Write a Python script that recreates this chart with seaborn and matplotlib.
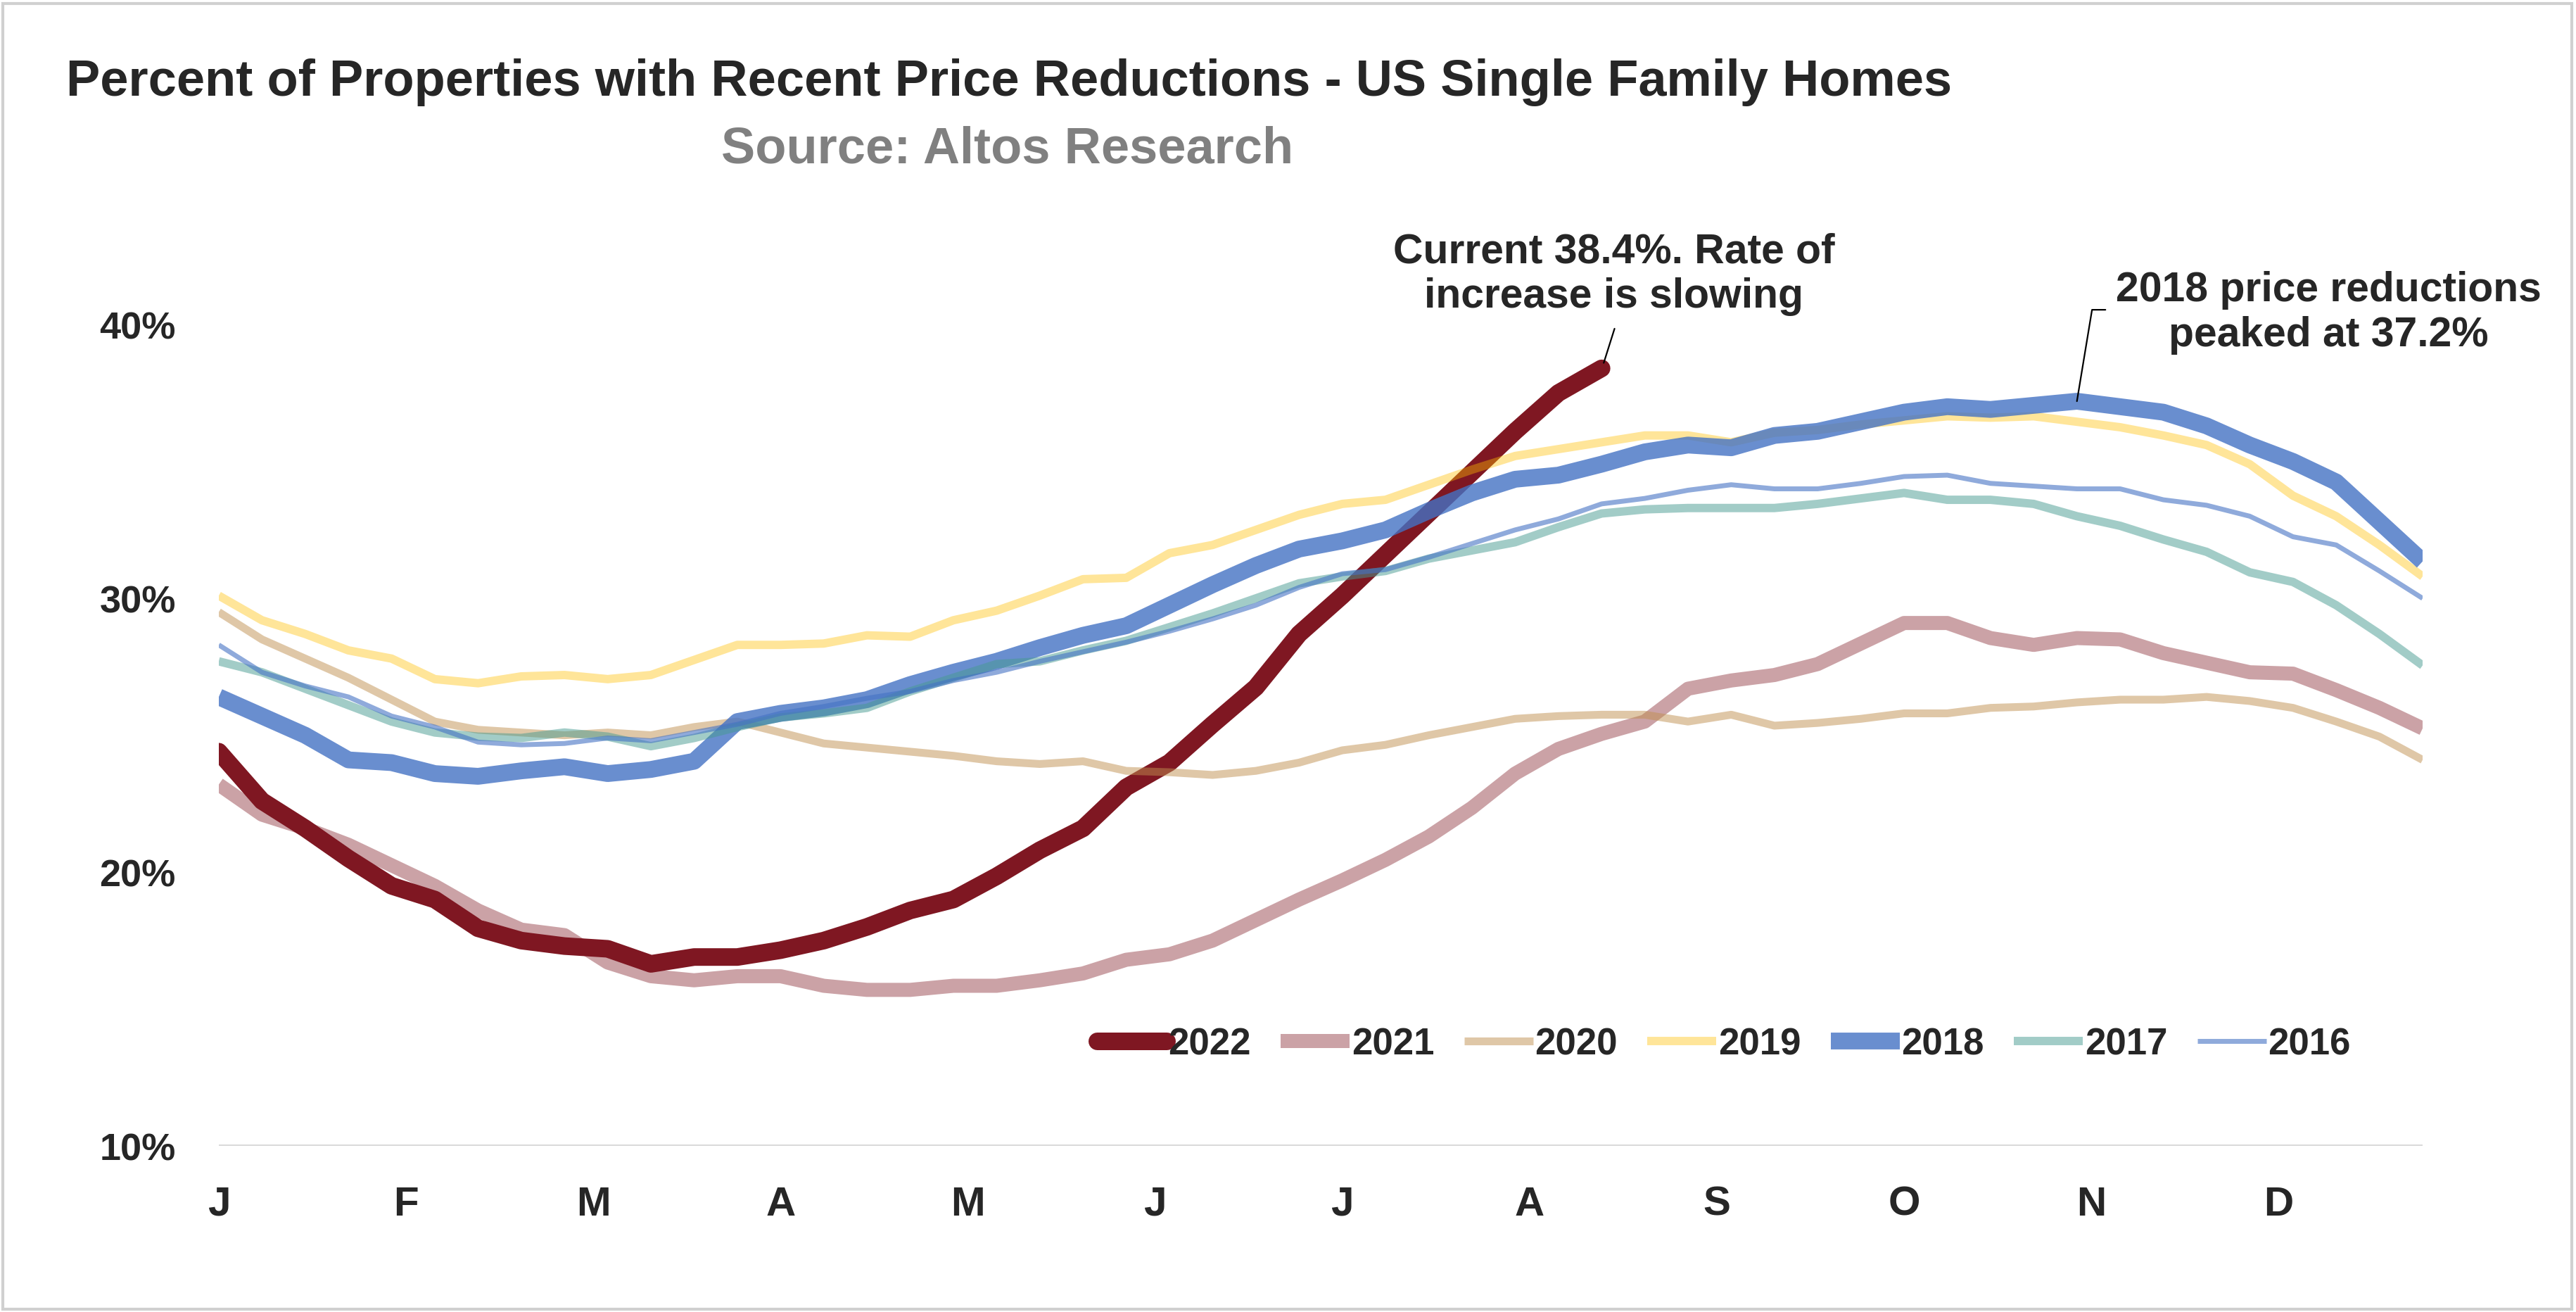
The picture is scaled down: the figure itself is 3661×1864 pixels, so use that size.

# ============================================================
# IMPORT LIBRARIES
# ============================================================

import numpy as np
import pandas as pd
import matplotlib
matplotlib.use("Agg")
import matplotlib.pyplot as plt
import seaborn as sns
from matplotlib.patches import Rectangle

# ============================================================
# DATA (weekly, percent of listings with a price cut)
# ============================================================

month_labels = ["J", "F", "M", "A", "M", "J", "J", "A", "S", "O", "N", "D"]

years = ["2022", "2021", "2020", "2019", "2018", "2017", "2016"]

y2022 = [24.4, 22.6, 21.6, 20.5, 19.5, 19.0, 17.95, 17.5, 17.3, 17.2,
         16.65, 16.9, 16.9, 17.15, 17.5, 18.0, 18.6, 19.0, 19.85, 20.8,
         21.6, 23.1, 24.0, 25.4, 26.75, 28.7, 30.1, 31.6, 33.1, 34.6,
         36.1, 37.5, 38.4]

y2021 = [23.2, 22.1, 21.6, 21.0, 20.25, 19.5, 18.6, 17.9, 17.7, 16.7,
         16.2, 16.05, 16.2, 16.2, 15.85, 15.7, 15.7, 15.85, 15.85, 16.05,
         16.3, 16.8, 17.0, 17.5, 18.25, 19.0, 19.7, 20.45, 21.3, 22.35,
         23.6, 24.5, 25.05, 25.5, 26.7, 27.0, 27.2, 27.6, 28.35, 29.1,
         29.1, 28.55, 28.3, 28.55, 28.5, 28.0, 27.65, 27.3, 27.25, 26.65,
         26.0, 25.25]

y2020 = [29.5, 28.5, 27.8, 27.1, 26.3, 25.5, 25.2, 25.1, 25.0, 25.1,
         25.0, 25.3, 25.5, 25.1, 24.7, 24.55, 24.4, 24.25, 24.05, 23.95,
         24.05, 23.7, 23.65, 23.55, 23.7, 24.0, 24.45, 24.65, 25.0, 25.3,
         25.6, 25.7, 25.75, 25.75, 25.5, 25.75, 25.35, 25.45, 25.6, 25.8,
         25.8, 26.0, 26.05, 26.2, 26.3, 26.3, 26.4, 26.25, 26.0, 25.5,
         24.95, 24.1]

y2019 = [30.1, 29.2, 28.7, 28.1, 27.8, 27.05, 26.9, 27.15, 27.2, 27.05,
         27.2, 27.75, 28.3, 28.3, 28.35, 28.65, 28.6, 29.2, 29.55, 30.1,
         30.7, 30.75, 31.65, 31.95, 32.5, 33.05, 33.45, 33.6, 34.15, 34.7,
         35.2, 35.45, 35.7, 35.95, 35.95, 35.7, 36.05, 36.15, 36.35, 36.5,
         36.65, 36.6, 36.65, 36.45, 36.25, 35.95, 35.6, 34.9, 33.75, 33.0,
         31.95, 30.8]

y2018 = [26.4, 25.7, 25.0, 24.1, 24.0, 23.6, 23.5, 23.7, 23.85, 23.6,
         23.75, 24.05, 25.5, 25.8, 26.0, 26.3, 26.85, 27.3, 27.7, 28.2,
         28.65, 29.0, 29.75, 30.5, 31.2, 31.8, 32.1, 32.5, 33.2, 33.85,
         34.35, 34.5, 34.9, 35.35, 35.6, 35.5, 35.95, 36.1, 36.45, 36.8,
         37.0, 36.9, 37.05, 37.2, 37.0, 36.8, 36.3, 35.6, 35.0, 34.25,
         32.8, 31.35]

y2017 = [27.7, 27.3, 26.7, 26.1, 25.5, 25.1, 24.95, 24.9, 25.1, 24.95,
         24.6, 24.9, 25.3, 25.65, 25.8, 26.0, 26.6, 27.1, 27.6, 27.7,
         28.1, 28.45, 28.95, 29.45, 30.0, 30.55, 30.8, 31.0, 31.45, 31.75,
         32.05, 32.6, 33.1, 33.25, 33.3, 33.3, 33.3, 33.45, 33.65, 33.85,
         33.6, 33.6, 33.45, 33.0, 32.65, 32.15, 31.7, 30.95, 30.6, 29.75,
         28.7, 27.55]

y2016 = [28.3, 27.3, 26.8, 26.4, 25.7, 25.3, 24.75, 24.65, 24.7, 24.9,
         24.8, 25.1, 25.4, 25.8, 26.05, 26.35, 26.6, 27.0, 27.3, 27.7,
         28.05, 28.4, 28.8, 29.25, 29.75, 30.4, 30.9, 31.05, 31.5, 32.0,
         32.5, 32.9, 33.45, 33.65, 33.95, 34.15, 34.0, 34.0, 34.2, 34.45,
         34.5, 34.2, 34.1, 34.0, 34.0, 33.6, 33.4, 33.0, 32.25, 31.95,
         31.0, 30.0]

series = [y2022, y2021, y2020, y2019, y2018, y2017, y2016]

# ============================================================
# STYLE
# ============================================================

colors = ["#7F1722", "#7F1722", "#C09050", "#FFC000", "#4472C4", "#469B91", "#4472C4"]
alphas = [1.0, 0.4, 0.5, 0.4, 0.8, 0.5, 0.6]
widths = [9.0, 7.2, 4.0, 4.3, 8.6, 4.3, 2.5]

sns.set_style("white")
plt.rcParams["font.family"] = ["Liberation Sans", "DejaVu Sans"]

# ============================================================
# FIGURE
# ============================================================

fig = plt.figure(figsize=(18.31, 9.325), dpi=200)
fig.patch.set_facecolor("white")

ax = fig.add_axes([0.0849, 0.1265, 0.8553, 0.730])

ax.axhline(10, color="#d9d9d9", linewidth=1.8, zorder=0)

for year, vals, c, a, w in zip(years, series, colors, alphas, widths):

    df = pd.DataFrame({"week": np.arange(len(vals)), "pct": vals})

    sns.lineplot(
        data=df,
        x="week",
        y="pct",
        ax=ax,
        color=c,
        alpha=a,
        linewidth=w,
        label=year,
        solid_capstyle="round" if year == "2022" else "butt",
        solid_joinstyle="round"
    )

ax.set_xlim(0, 51)
ax.set_ylim(10, 45)

ax.set_xticks(np.arange(12) * 52 / 12)
ax.set_xticklabels(month_labels, fontsize=21, fontweight="bold")

ax.set_yticks([10, 20, 30, 40])
ax.set_yticklabels([f"{v}%" for v in [10, 20, 30, 40]], fontsize=19.5, fontweight="bold")

ax.tick_params(axis="x", length=0, pad=20)
ax.tick_params(axis="y", length=0, pad=22)

ax.set_xlabel("")
ax.set_ylabel("")

for s in ax.spines.values():
    s.set_visible(False)

# ============================================================
# LEGEND
# ============================================================

ax.legend(
    loc="center",
    bbox_to_anchor=(0.683, 0.106),
    ncol=7,
    frameon=False,
    handlelength=1.86,
    handletextpad=0.05,
    columnspacing=0.8,
    prop={"weight": "bold", "size": 19}
)

# ============================================================
# ANNOTATIONS
# ============================================================

ax.text(32.28, 41.85, "Current 38.4%. Rate of\nincrease is slowing",
        ha="center", va="center", multialignment="center",
        fontsize=21.2, fontweight="bold", linespacing=1.2)

ax.plot([32.05, 32.3], [38.6, 39.85], color="black", linewidth=0.8, clip_on=False)

ax.text(48.83, 40.46, "2018 price reductions\npeaked at 37.2%",
        ha="center", va="center", multialignment="center",
        fontsize=21.2, fontweight="bold", linespacing=1.2,
        clip_on=False)

ax.plot([43.0, 43.35, 43.66], [37.2, 40.54, 40.54], color="black", linewidth=0.8, clip_on=False)

# ============================================================
# TITLE
# ============================================================

fig.text(0.3916, 0.937,
         "Percent of Properties with Recent Price Reductions - US Single Family Homes",
         ha="center", va="center", fontsize=26, fontweight="bold")

fig.text(0.391, 0.8863, "Source: Altos Research",
         ha="center", va="center", fontsize=26, fontweight="bold",
         color="#808080")

fig.patches.append(Rectangle((0.001, 0.002), 0.997, 0.995, transform=fig.transFigure,
                             fill=False, edgecolor="#d0d0d0", linewidth=1.5))

plt.savefig("out.png", dpi=200, facecolor="white")
